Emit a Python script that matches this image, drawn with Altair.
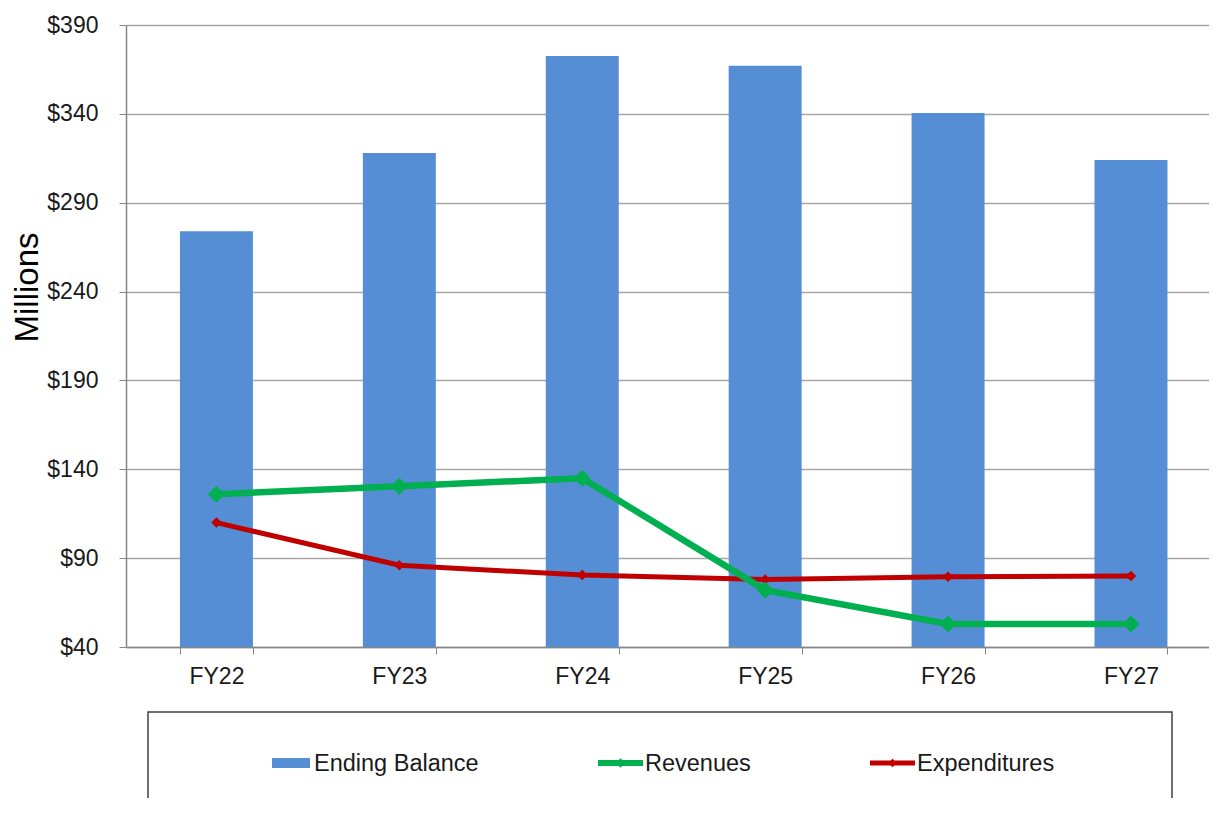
import altair as alt
import pandas as pd

years = ["FY22", "FY23", "FY24", "FY25", "FY26", "FY27"]
ending_balance = [274, 318, 372.5, 367, 340.5, 314]
revenues = [126, 130.5, 135, 72, 53, 53]
expenditures = [110, 86, 80.5, 78, 79.5, 80]
series_names = ["Ending Balance", "Revenues", "Expenditures"]
y_ticks = [40, 90, 140, 190, 240, 290, 340, 390]

BLUE = "#558ED5"
GREEN = "#00B050"
RED = "#C00000"
FONT = "Liberation Sans"

df = pd.DataFrame({
    "year": years,
    "balance": ending_balance,
    "revenues": revenues,
    "expenditures": expenditures,
})

W, H = 1083, 622

xenc = alt.X(
    "year:N", sort=years, title=None,
    scale=alt.Scale(paddingInner=0.601, paddingOuter=0.261, align=0.565),
    axis=alt.Axis(
        labelFont=FONT, labelFontSize=23, labelColor="#1a1a1a", labelPadding=11,
        tickBand="extent", tickSize=7, tickColor="#868686", domainColor="#868686",
        domainWidth=1.5, grid=False, labelAngle=0,
    ),
)
yscale = alt.Scale(domain=[40, 390], nice=False, zero=False)
yaxis = alt.Axis(
    values=y_ticks, labelExpr="'$' + datum.value",
    labelFont=FONT, labelFontSize=23, labelColor="#1a1a1a", labelPadding=21,
    tickSize=7, tickColor="#868686", domainColor="#868686", domainWidth=1.5,
    grid=True, gridColor="#A6A6A6", gridWidth=1.5,
    title="Millions", titleFont=FONT, titleFontSize=33, titleFontWeight="normal",
    titleColor="#000000", titleAngle=270, titleX=-99, titleY=262,
    titleAlign="center", titleBaseline="middle",
)

base = alt.Chart(df)

bars = base.mark_bar(color=BLUE).encode(
    x=xenc,
    y=alt.Y("balance:Q", scale=yscale, axis=yaxis),
    y2=alt.datum(40),
)

rev_line = base.mark_line(color=GREEN, strokeWidth=6.5).encode(
    x=xenc, y=alt.Y("revenues:Q", scale=yscale, axis=yaxis))
rev_pts = base.mark_point(shape="diamond", filled=True, color=GREEN, size=290, opacity=1).encode(
    x=xenc, y=alt.Y("revenues:Q", scale=yscale, axis=yaxis))
exp_line = base.mark_line(color=RED, strokeWidth=5).encode(
    x=xenc, y=alt.Y("expenditures:Q", scale=yscale, axis=yaxis))
exp_pts = base.mark_point(shape="diamond", filled=True, color=RED, size=110, opacity=1).encode(
    x=xenc, y=alt.Y("expenditures:Q", scale=yscale, axis=yaxis))

# ---- custom legend box (layout only) ----
one = alt.Data(values=[{"a": 1}])
box = alt.Chart(one).mark_rect(fill=None, stroke="#404040", strokeWidth=1.5).encode(
    x=alt.value(22), x2=alt.value(1046), y=alt.value(687), y2=alt.value(900))

LY = 738
leg_rect = alt.Chart(one).mark_rect(color=BLUE).encode(
    x=alt.value(146), x2=alt.value(184), y=alt.value(LY - 5), y2=alt.value(LY + 5))
leg_rev = alt.Chart(one).mark_rule(color=GREEN, strokeWidth=6).encode(
    x=alt.value(472), x2=alt.value(517), y=alt.value(LY), y2=alt.value(LY))
leg_rev_pt = alt.Chart(one).mark_point(shape="diamond", filled=True, color=GREEN, size=90, opacity=1).encode(
    x=alt.value(494.5), y=alt.value(LY))
leg_exp = alt.Chart(one).mark_rule(color=RED, strokeWidth=5).encode(
    x=alt.value(744), x2=alt.value(789), y=alt.value(LY), y2=alt.value(LY))
leg_exp_pt = alt.Chart(one).mark_point(shape="diamond", filled=True, color=RED, size=70, opacity=1).encode(
    x=alt.value(766.5), y=alt.value(LY))

def leg_text(label, x):
    return alt.Chart(one).mark_text(
        text=label, font=FONT, fontSize=23.5, color="#1a1a1a", align="left", baseline="middle"
    ).encode(x=alt.value(x), y=alt.value(LY + 1))

t1 = leg_text(series_names[0], 188)
t2 = leg_text(series_names[1], 519)
t3 = leg_text(series_names[2], 791)

chart = alt.layer(
    bars, exp_line, exp_pts, rev_line, rev_pts,
    box, leg_rect, leg_rev, leg_rev_pt, leg_exp, leg_exp_pt, t1, t2, t3,
).properties(
    width=W, height=H,
    autosize=alt.AutoSizeParams(type="none"),
    padding={"left": 118, "top": 17, "right": 0, "bottom": 151},
).configure_view(stroke=None).configure(background="white")

chart.save("out.html", embed_options={"renderer": "svg", "actions": False})
